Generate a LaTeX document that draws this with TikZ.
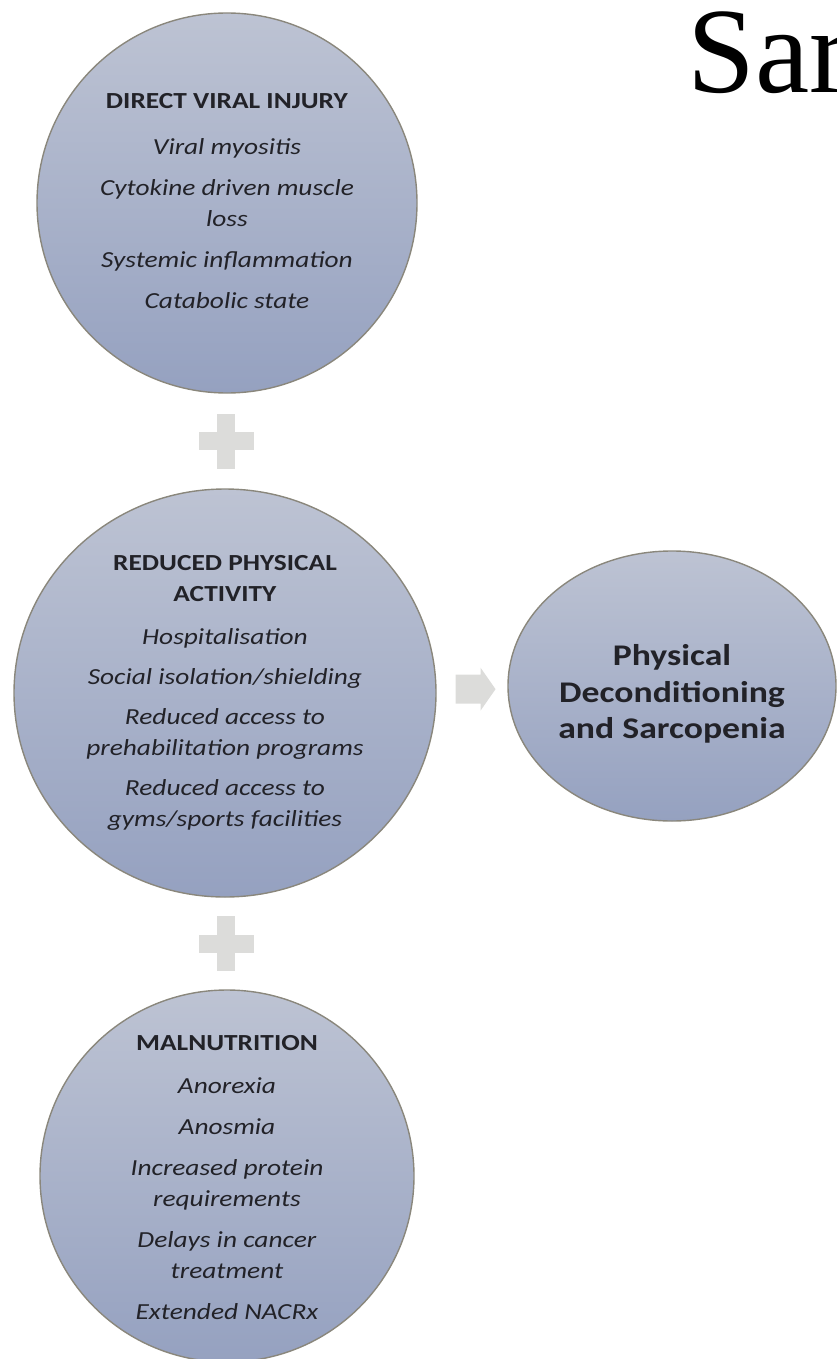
\documentclass[tikz,border=0pt]{standalone}
\usepackage{fontspec}
\setmainfont{Carlito}[FakeStretch=1.19]
\newfontfamily\serifhead{Liberation Serif}
\usetikzlibrary{shapes.geometric}
\definecolor{bubbletop}{HTML}{BDC3D3}
\definecolor{bubblebot}{HTML}{95A1C0}
\definecolor{bubbleline}{HTML}{8A877C}
\definecolor{signgray}{HTML}{DCDCDA}
\definecolor{inkdark}{HTML}{222228}
\begin{document}
\begin{tikzpicture}[x=1pt,y=-1pt,
  bubble/.style={ellipse, draw=bubbleline, line width=1.4pt,
    top color=bubbletop, bottom color=bubblebot, inner sep=0pt},
  bubbletext/.style={align=center, text=inkdark, inner sep=0pt,
    font=\fontsize{23}{31}\selectfont},
  resulttext/.style={align=center, text=inkdark, inner sep=0pt,
    font=\fontsize{30}{36.5}\selectfont\bfseries},
  signfill/.style={fill=signgray, draw=none},
]
\useasboundingbox (0,0) rectangle (836,1359);

% heading fragment in the corner
\node[anchor=base west, inner sep=0pt, font=\fontsize{122}{122}\selectfont\serifhead]
  (head) at (687,93) {Sar};

% contributing factors
\node[bubble, minimum width=380, minimum height=380] (c1) at (227,203) {};
\node[bubble, minimum width=422, minimum height=408] (c2) at (225,693) {};
\node[bubble, minimum width=374, minimum height=372] (c3) at (227,1176) {};
% outcome
\node[bubble, minimum width=328, minimum height=270] (c4) at (672,686) {};

% (shifts are in page points, positive = upwards)
\node[bubbletext] (t1) at ([yshift=2]c1.center) {\textbf{DIRECT VIRAL INJURY}\\[15pt]
  \textit{Viral myositis}\\[10pt]
  \textit{Cytokine driven muscle}\\
  \textit{loss}\\[10pt]
  \textit{Systemic inflammation}\\[10pt]
  \textit{Catabolic state}};

\node[bubbletext] (t2) at (c2) {\textbf{REDUCED PHYSICAL}\\
  \textbf{ACTIVITY}\\[12pt]
  \textit{Hospitalisation}\\[9pt]
  \textit{Social isolation/shielding}\\[9pt]
  \textit{Reduced access to}\\
  \textit{prehabilitation programs}\\[9pt]
  \textit{Reduced access to}\\
  \textit{gyms/sports facilities}};

\node[bubbletext] (t3) at ([yshift=-2]c3.center) {\textbf{MALNUTRITION}\\[12pt]
  \textit{Anorexia}\\[10pt]
  \textit{Anosmia}\\[10pt]
  \textit{Increased protein}\\
  \textit{requirements}\\[10pt]
  \textit{Delays in cancer}\\
  \textit{treatment}\\[10pt]
  \textit{Extended NACRx}};

\node[resulttext] (t4) at ([yshift=-8]c4.center) {Physical\\Deconditioning\\and Sarcopenia};

% plus signs between the factors
\path (c1.south) -- (c2.north) coordinate[midway] (p1);
\path (c2.south) -- (c3.north) coordinate[midway] (p2);
\foreach \p in {p1,p2}{
  \fill[signfill] ([shift={(-9,-27.5)}]\p) rectangle ([shift={(9,27.5)}]\p);
  \fill[signfill] ([shift={(-27.5,-9)}]\p) rectangle ([shift={(27.5,9)}]\p);
}

% block arrow towards the outcome
\path (c2.east) -- (c4.west) coordinate[pos=0.55] (ar);
\fill[signfill] ([shift={(-20,-14.5)}]ar) -- ([shift={(5,-14.5)}]ar)
  -- ([shift={(5,-21.5)}]ar) -- ([shift={(20,0)}]ar)
  -- ([shift={(5,21.5)}]ar) -- ([shift={(5,14.5)}]ar)
  -- ([shift={(-20,14.5)}]ar) -- cycle;
\end{tikzpicture}
\end{document}
